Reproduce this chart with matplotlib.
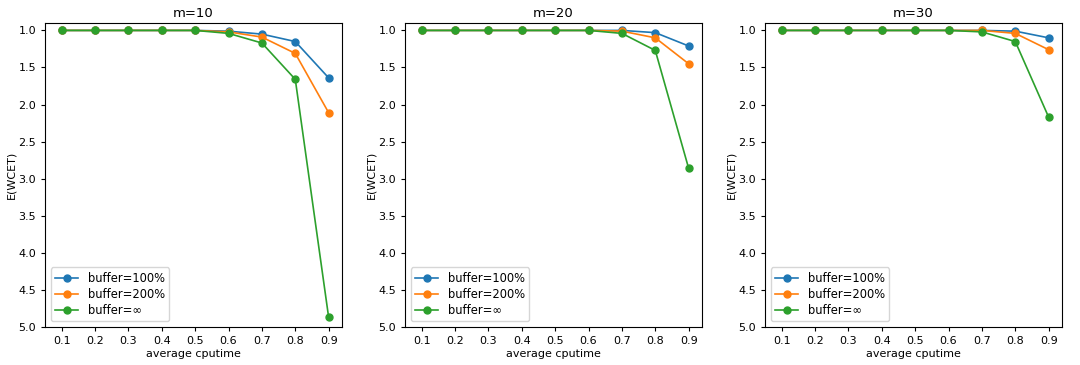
import matplotlib
matplotlib.use("Agg")
import matplotlib.pyplot as plt

x = [0.1, 0.2, 0.3, 0.4, 0.5, 0.6, 0.7, 0.8, 0.9]
titles = ["m=10", "m=20", "m=30"]
labels = ["buffer=100%", "buffer=200%", "buffer=\u221e"]

m10_b100 = [1.0, 1.0, 1.0, 1.0, 1.0, 1.01, 1.05, 1.15, 1.64]
m10_b200 = [1.0, 1.0, 1.0, 1.0, 1.0, 1.02, 1.09, 1.31, 2.11]
m10_inf = [1.0, 1.0, 1.0, 1.0, 1.0, 1.04, 1.17, 1.66, 4.87]

m20_b100 = [1.0, 1.0, 1.0, 1.0, 1.0, 1.0, 1.0, 1.03, 1.21]
m20_b200 = [1.0, 1.0, 1.0, 1.0, 1.0, 1.0, 1.01, 1.10, 1.45]
m20_inf = [1.0, 1.0, 1.0, 1.0, 1.0, 1.0, 1.04, 1.27, 2.86]

m30_b100 = [1.0, 1.0, 1.0, 1.0, 1.0, 1.0, 1.0, 1.01, 1.10]
m30_b200 = [1.0, 1.0, 1.0, 1.0, 1.0, 1.0, 1.0, 1.04, 1.26]
m30_inf = [1.0, 1.0, 1.0, 1.0, 1.0, 1.0, 1.02, 1.15, 2.17]

series = [
    [m10_b100, m10_b200, m10_inf],
    [m20_b100, m20_b200, m20_inf],
    [m30_b100, m30_b200, m30_inf],
]
colors = ["#1f77b4", "#ff7f0e", "#2ca02c"]

fig = plt.figure(figsize=(10.8, 3.65), dpi=100)
lefts = [45, 405, 765]
for i, (title, ser) in enumerate(zip(titles, series)):
    ax = fig.add_axes([lefts[i] / 1080, (365 - 327) / 365, 297 / 1080, (327 - 23) / 365])
    for s, lab, c in zip(ser, labels, colors):
        ax.plot(x, s, marker="o", markersize=5, color=c, label=lab, linewidth=1.2)
    ax.set_ylim(5.0, 0.9)
    ax.set_xlim(0.05, 0.94)
    ax.set_xticks(x)
    ax.set_yticks([1.0, 1.5, 2.0, 2.5, 3.0, 3.5, 4.0, 4.5, 5.0])
    ax.tick_params(labelsize=8, length=3)
    ax.set_title(title, fontsize=9.5, pad=4)
    ax.set_xlabel("average cputime", fontsize=8, labelpad=2)
    ax.set_ylabel("E(WCET)", fontsize=8, labelpad=1)
    ax.legend(loc="lower left", fontsize=8.3, handlelength=2.0, borderpad=0.4,
              labelspacing=0.25)

fig.savefig("out.png", dpi=100)
